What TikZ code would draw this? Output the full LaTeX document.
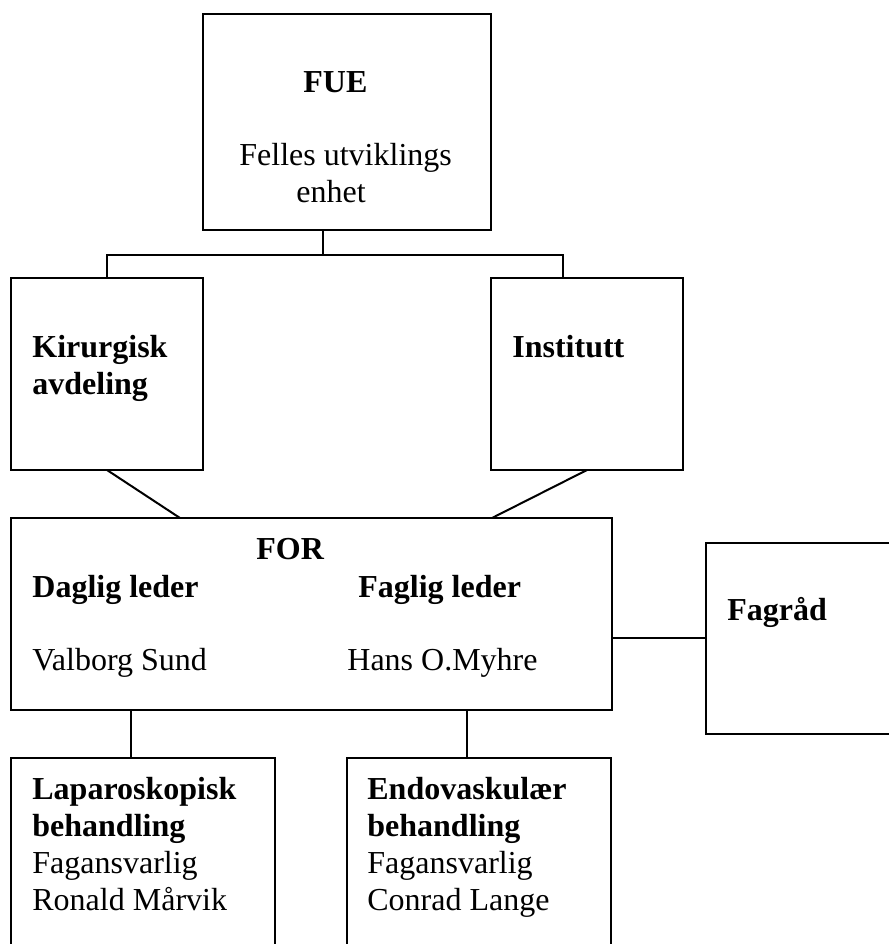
\documentclass[tikz,border=0pt]{standalone}
\usepackage{fontspec}
\setmainfont{Liberation Serif}
\begin{document}
\begin{tikzpicture}[x=0.5pt,y=-0.5pt,
  box/.style={draw,line width=1pt,inner sep=0pt,outer sep=0pt,anchor=north west},
  link/.style={line width=1pt},
  txt/.style={anchor=base west,inner sep=0pt,font=\fontsize{16}{18.5}\selectfont},
  btxt/.style={txt,font=\fontsize{16}{18.5}\selectfont\bfseries}]
\useasboundingbox (0,0) rectangle (889,944);
\clip (0,0) rectangle (889,944);
% boxes
\node[box,minimum width=144pt,minimum height=108pt] (fue) at (203,14) {};
\node[box,minimum width=96pt,minimum height=96pt] (kir) at (11,278) {};
\node[box,minimum width=96pt,minimum height=96pt] (inst) at (491,278) {};
\node[box,minimum width=300.5pt,minimum height=96pt] (for) at (11,518) {};
\node[box,minimum width=97pt,minimum height=95.5pt] (fag) at (706,543) {};
\node[box,minimum width=132pt,minimum height=105pt] (lap) at (11,758) {};
\node[box,minimum width=132pt,minimum height=105pt] (endo) at (347,758) {};
% texts
\node[btxt] (tfue) at (303,92) {FUE};
\node[txt] (tfel) at (239,165) {Felles utviklings};
\node[txt] (tenh) at (296,202) {enhet};
\node[btxt] (tkir1) at (32,357) {Kirurgisk};
\node[btxt] (tkir2) at (32,394) {avdeling};
\node[btxt] (tinst) at (512,357) {Institutt};
\node[btxt] (tfor) at (256,559) {FOR};
\node[btxt] (tdag) at (32,597) {Daglig leder};
\node[btxt] (tfagl) at (358,597) {Faglig leder};
\node[txt] (tval) at (32,670) {Valborg Sund};
\node[txt] (thans) at (347,670) {Hans O.Myhre};
\node[btxt] (tfag) at (727,620) {Fagråd};
\node[btxt] (tlap1) at (32,799) {Laparoskopisk};
\node[btxt] (tlap2) at (32,836) {behandling};
\node[txt] (tlap3) at (32,873) {Fagansvarlig};
\node[txt] (tlap4) at (32,910) {Ronald Mårvik};
\node[btxt] (tendo1) at (367,799) {Endovaskulær};
\node[btxt] (tendo2) at (367,836) {behandling};
\node[txt] (tendo3) at (367,873) {Fagansvarlig};
\node[txt] (tendo4) at (367,910) {Conrad Lange};
% connectors
\coordinate (bus) at (0,255);
\coordinate (fueout) at ([xshift=60pt]fue.south west);
\coordinate (instin) at ([xshift=36pt]inst.north west);
\draw[link] (fueout) -- (fueout |- bus);
\draw[link] (kir.north) -- (kir.north |- bus) -- (instin |- bus) -- (instin);
\coordinate (forinl) at ([xshift=84.5pt]for.north west);
\coordinate (forinr) at ([xshift=240.5pt]for.north west);
\draw[link] (kir.south) -- (forinl);
\draw[link] (inst.south) -- (forinr);
\coordinate (forfag) at ([yshift=-60pt]for.north east);
\draw[link] (forfag) -- (forfag -| fag.west);
\coordinate (forlap) at ([xshift=60pt]for.south west);
\coordinate (forendo) at ([xshift=228pt]for.south west);
\draw[link] (forlap) -- (forlap |- lap.north);
\draw[link] (forendo) -- (forendo |- endo.north);
\end{tikzpicture}
\end{document}
